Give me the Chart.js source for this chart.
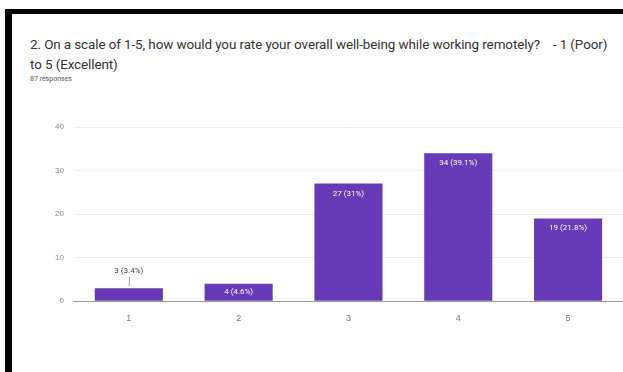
<!DOCTYPE html>
<html>
<head>
<meta charset="utf-8">
<script src="https://cdn.jsdelivr.net/npm/chart.js@4.4.0/dist/chart.umd.min.js"></script>
<style>
  html, body { margin: 0; padding: 0; background: #fff; overflow: hidden; }
  body { font-family: Roboto, "Noto Sans", sans-serif; }
  #frameL { position: absolute; left: 5px; top: 9px; width: 7px; height: 363px; background: #000; }
  #frameT { position: absolute; left: 5px; top: 9px; width: 618px; height: 5px; background: #000; }
  #title { position: absolute; left: 30px; top: 35px; font-size: 13.45px; color: #333; line-height: 20px; letter-spacing: -0.1px; white-space: nowrap; }
  #sub { position: absolute; left: 30px; top: 75px; font-size: 7px; color: #555; }
  #chart { position: absolute; left: 0; top: 0; }
</style>
</head>
<body>
<div id="frameL"></div>
<div id="frameT"></div>
<div id="title">2. On a scale of 1-5, how would you rate your overall well-being while working remotely?&nbsp;&nbsp;&nbsp;&nbsp;- 1 (Poor)<br>to 5 (Excellent)</div>
<div id="sub">87 responses</div>
<canvas id="chart" width="623" height="372"></canvas>
<script>
const categories = ["1", "2", "3", "4", "5"];
const counts = [3, 4, 27, 34, 19];
const percents = ["3.4%", "4.6%", "31%", "39.1%", "21.8%"];
const yTicks = [0, 10, 20, 30, 40];

// draws "n (p%)" labels, inside the bar when it fits, above it otherwise
const barLabels = {
  id: "barLabels",
  afterDatasetsDraw(chart) {
    const ctx = chart.ctx;
    const meta = chart.getDatasetMeta(0);
    ctx.save();
    ctx.font = "8px Roboto, sans-serif";
    ctx.textAlign = "center";
    ctx.textBaseline = "middle";
    meta.data.forEach((bar, i) => {
      const text = counts[i] + " (" + percents[i] + ")";
      const h = bar.base - bar.y;
      if (h > 25) {
        ctx.fillStyle = "#fff";
        ctx.fillText(text, bar.x, bar.y + 10);
      } else if (h > 15) {
        ctx.fillStyle = "#fff";
        ctx.fillText(text, bar.x, bar.y + h / 2);
      } else {
        ctx.fillStyle = "#444";
        ctx.fillText(text, bar.x, bar.y - 17);
        ctx.strokeStyle = "#999";
        ctx.lineWidth = 1;
        ctx.beginPath();
        ctx.moveTo(bar.x + 0.5, bar.y - 11);
        ctx.lineTo(bar.x + 0.5, bar.y - 2);
        ctx.stroke();
      }
    });
    ctx.restore();
  }
};

new Chart(document.getElementById("chart"), {
  type: "bar",
  data: {
    labels: categories,
    datasets: [{
      data: counts,
      backgroundColor: "#673ab7",
      categoryPercentage: 1,
      barPercentage: 0.62
    }]
  },
  plugins: [barLabels],
  options: {
    responsive: false,
    animation: false,
    layout: { padding: { top: 127, left: 45, right: 0, bottom: 36 } },
    plugins: { legend: { display: false }, tooltip: { enabled: false } },
    scales: {
      x: {
        grid: { display: false, drawTicks: false },
        border: { color: "#999" },
        ticks: { color: "#777", font: { size: 9 }, padding: 12 }
      },
      y: {
        min: 0,
        max: 40,
        afterBuildTicks: (scale) => { scale.ticks = yTicks.map(v => ({ value: v })); },
        grid: { color: (c) => c.tick.value === 0 ? "#999" : "#eee", drawTicks: false },
        border: { display: false },
        ticks: { color: "#888", font: { size: 8 }, padding: 10 }
      }
    }
  }
});
</script>
</body>
</html>
